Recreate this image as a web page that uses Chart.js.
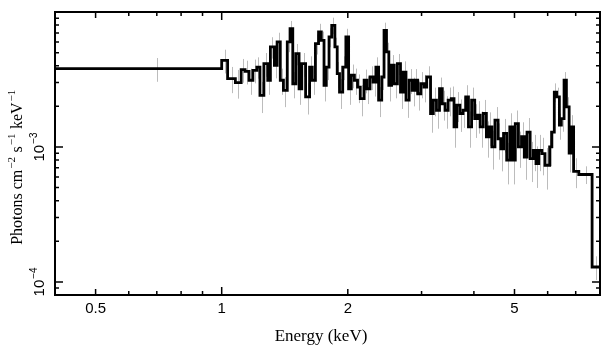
<!DOCTYPE html>
<html><head><meta charset="utf-8">
<script src="https://cdn.jsdelivr.net/npm/chart.js@4.4.1/dist/chart.umd.min.js"></script>
<style>html,body{margin:0;padding:0;background:#fff;overflow:hidden}#wrap{width:609px;height:357px}</style>
</head><body><div id="wrap"><canvas id="c" width="609" height="357"></canvas></div>
<script>
// Bin edges (keV), 120 edges -> 119 bins
const binEdges = [
 0.40,1.000,1.033,1.078,1.113,1.137,1.162,1.187,1.213,1.234,
 1.261,1.288,1.307,1.336,1.356,1.380,1.404,1.434,1.456,1.478,
 1.503,1.530,1.553,1.586,1.621,1.645,1.674,1.703,1.729,1.755,
 1.777,1.804,1.831,1.863,1.887,1.911,1.945,1.979,2.009,2.039,
 2.074,2.110,2.142,2.188,2.222,2.260,2.299,2.334,2.369,2.410,
 2.441,2.474,2.506,2.544,2.582,2.627,2.672,2.713,2.754,2.802,
 2.850,2.893,2.937,2.988,3.040,3.086,3.152,3.200,3.256,3.311,
 3.362,3.413,3.472,3.532,3.586,3.640,3.703,3.767,3.824,3.882,
 3.950,4.018,4.079,4.140,4.211,4.284,4.349,4.415,4.491,4.569,
 4.638,4.709,4.790,4.873,4.947,5.022,5.109,5.197,5.277,5.356,
 5.449,5.543,5.627,5.712,5.811,5.912,6.066,6.131,6.223,6.304,
 6.399,6.468,6.566,6.651,6.752,6.825,6.92,7.12,7.66,8.0
];
// Flux (photons cm^-2 s^-1 keV^-1) per bin
const flux = [
 3.80e-3,4.38e-3,3.21e-3,3.00e-3,3.74e-3,3.63e-3,3.12e-3,3.70e-3,3.91e-3,2.41e-3,
 4.14e-3,3.12e-3,5.51e-3,4.03e-3,6.00e-3,3.12e-3,2.63e-3,6.00e-3,7.53e-3,2.94e-3,
 4.91e-3,2.70e-3,4.14e-3,2.35e-3,3.91e-3,3.12e-3,5.83e-3,7.11e-3,6.17e-3,2.86e-3,
 3.91e-3,6.53e-3,7.96e-3,5.51e-3,3.49e-3,2.55e-3,3.91e-3,6.53e-3,2.70e-3,3.40e-3,
 3.12e-3,2.78e-3,2.28e-3,3.12e-3,2.70e-3,3.30e-3,3.03e-3,3.91e-3,2.22e-3,3.30e-3,
 7.31e-3,5.06e-3,2.86e-3,4.03e-3,2.94e-3,4.14e-3,2.55e-3,3.59e-3,2.22e-3,3.12e-3,
 2.63e-3,3.12e-3,2.48e-3,2.94e-3,2.78e-3,3.30e-3,1.77e-3,2.22e-3,1.87e-3,2.70e-3,
 2.09e-3,1.87e-3,2.22e-3,2.28e-3,1.41e-3,2.04e-3,1.77e-3,1.87e-3,2.35e-3,1.41e-3,
 2.22e-3,1.62e-3,1.72e-3,1.41e-3,1.77e-3,1.19e-3,1.41e-3,1.00e-3,1.58e-3,1.15e-3,
 0.97e-3,1.26e-3,0.80e-3,1.41e-3,0.80e-3,1.49e-3,1.00e-3,1.19e-3,0.84e-3,1.29e-3,
 0.82e-3,0.945e-3,0.753e-3,0.945e-3,0.893e-3,0.732e-3,1.00e-3,1.29e-3,2.55e-3,2.35e-3,
 1.45e-3,1.62e-3,3.12e-3,1.98e-3,0.90e-3,1.41e-3,0.66e-3,0.625e-3,0.129e-3
];
// Relative 1-sigma errors per bin
const fluxErr = [
 0.20,0.20,0.22,0.24,0.20,0.20,0.22,0.20,0.18,0.26,
 0.20,0.22,0.18,0.20,0.17,0.22,0.25,0.16,0.14,0.22,
 0.18,0.24,0.20,0.26,0.20,0.22,0.17,0.15,0.16,0.24,
 0.20,0.16,0.14,0.17,0.22,0.25,0.20,0.15,0.24,0.20,
 0.22,0.24,0.26,0.20,0.23,0.20,0.22,0.18,0.25,0.20,
 0.14,0.17,0.24,0.19,0.22,0.18,0.25,0.20,0.26,0.21,
 0.24,0.21,0.25,0.22,0.23,0.20,0.28,0.24,0.27,0.21,
 0.25,0.27,0.24,0.23,0.30,0.25,0.27,0.26,0.22,0.30,
 0.24,0.28,0.27,0.30,0.26,0.30,0.28,0.32,0.25,0.30,
 0.32,0.28,0.34,0.26,0.34,0.25,0.30,0.28,0.32,0.27,
 0.33,0.30,0.34,0.30,0.31,0.34,0.28,0.24,0.16,0.17,
 0.22,0.20,0.15,0.18,0.28,0.22,0.25,0.15,0.20
];
const xLabelTicks = [0.5, 1, 2, 5];
const xMinorTicks = [0.6, 0.7, 0.8, 0.9, 3, 4, 6, 7];
const yMajorTicks = [1e-4, 1e-3];
const yMinorTicks = [9e-5,2e-4,3e-4,4e-4,5e-4,6e-4,7e-4,8e-4,9e-4,2e-3,3e-3,4e-3,5e-3,6e-3,7e-3,8e-3,9e-3];
const yTickExp = ['\u22124', '\u22123'];
const xTitle = 'Energy (keV)';
const yTitleParts = [['Photons cm',0],['\u22122',1],[' s',0],['\u22121',1],[' keV',0],['\u22121',1]];

const stepPoints = binEdges.map((e, i) => ({x: e, y: flux[Math.min(i, flux.length - 1)]}));

const SANS = '"Liberation Sans", Arial, sans-serif';
const SERIF = '"Liberation Serif", "Times New Roman", serif';

const errorBars = {
  id: 'errorBars',
  beforeDatasetsDraw(chart) {
    const {ctx, scales: {x, y}, chartArea: a} = chart;
    ctx.save();
    ctx.beginPath(); ctx.rect(a.left, a.top, a.right - a.left, a.bottom - a.top); ctx.clip();
    ctx.strokeStyle = '#bcbcbc'; ctx.lineWidth = 1;
    for (let i = 0; i < flux.length; i++) {
      const xc = (binEdges[i] + binEdges[i + 1]) / 2;
      const px = Math.round(x.getPixelForValue(xc)) + 0.5;
      const v = flux[i], e = fluxErr[i] * v;
      ctx.beginPath();
      ctx.moveTo(px, y.getPixelForValue(v + e));
      ctx.lineTo(px, y.getPixelForValue(Math.max(v - e, 1e-6)));
      ctx.stroke();
    }
    ctx.restore();
  }
};

const frame = {
  id: 'frame',
  afterDraw(chart) {
    const {ctx, scales: {x, y}, chartArea: a} = chart;
    ctx.save();
    ctx.strokeStyle = '#000'; ctx.fillStyle = '#000';
    ctx.lineWidth = 2;
    ctx.strokeRect(a.left, a.top, a.right - a.left, a.bottom - a.top);
    ctx.lineWidth = 1.5;
    const xt = (v, len) => {
      const px = x.getPixelForValue(v);
      ctx.beginPath();
      ctx.moveTo(px, a.bottom); ctx.lineTo(px, a.bottom - len);
      ctx.moveTo(px, a.top); ctx.lineTo(px, a.top + len);
      ctx.stroke();
    };
    const yt = (v, len) => {
      const py = y.getPixelForValue(v);
      ctx.beginPath();
      ctx.moveTo(a.left, py); ctx.lineTo(a.left + len, py);
      ctx.moveTo(a.right, py); ctx.lineTo(a.right - len, py);
      ctx.stroke();
    };
    xMinorTicks.forEach(v => xt(v, 4));
    xLabelTicks.forEach(v => xt(v, v === 1 ? 8 : 6));
    yMinorTicks.forEach(v => yt(v, 4));
    yMajorTicks.forEach(v => yt(v, 8));

    // x tick labels
    ctx.font = '15px ' + SANS;
    ctx.textAlign = 'center'; ctx.textBaseline = 'alphabetic';
    xLabelTicks.forEach(v => ctx.fillText(String(v), x.getPixelForValue(v), 313));

    // y tick labels (rotated, 10 with superscript exponent)
    yMajorTicks.forEach((v, i) => {
      const py = y.getPixelForValue(v);
      ctx.save();
      ctx.translate(44, py); ctx.rotate(-Math.PI / 2);
      ctx.textAlign = 'left';
      ctx.font = '15px ' + SANS; const wb = ctx.measureText('10').width;
      ctx.font = '10px ' + SANS; const ws = ctx.measureText(yTickExp[i]).width;
      const s = -(wb + ws + 1) / 2;
      ctx.font = '15px ' + SANS; ctx.fillText('10', s, 0);
      ctx.font = '10px ' + SANS; ctx.fillText(yTickExp[i], s + wb + 1, -7);
      ctx.restore();
    });

    // x title
    ctx.font = '17px ' + SERIF; ctx.textAlign = 'center';
    ctx.fillText(xTitle, 321, 341);

    // y title
    ctx.save();
    ctx.translate(22, 167); ctx.rotate(-Math.PI / 2);
    ctx.textAlign = 'left';
    const fnt = p => (p[1] ? '11px ' : '16px ') + SERIF;
    let tot = 0;
    yTitleParts.forEach(p => { ctx.font = fnt(p); tot += ctx.measureText(p[0]).width + (p[1] ? 1.5 : 0); });
    let cx = -tot / 2;
    yTitleParts.forEach(p => {
      ctx.font = fnt(p);
      ctx.fillText(p[0], cx + (p[1] ? 1 : 0), p[1] ? -7 : 0);
      cx += ctx.measureText(p[0]).width + (p[1] ? 1.5 : 0);
    });
    ctx.restore();
    ctx.restore();
  }
};

new Chart(document.getElementById('c'), {
  type: 'line',
  data: {
    datasets: [{
      data: stepPoints,
      stepped: 'before',
      borderColor: '#000',
      borderWidth: 2.8,
      borderJoinStyle: 'miter',
      pointRadius: 0,
      fill: false,
      tension: 0
    }]
  },
  options: {
    responsive: false,
    animation: false,
    devicePixelRatio: 1,
    layout: {padding: {left: 55, right: 9, top: 12, bottom: 62}},
    plugins: {legend: {display: false}, tooltip: {enabled: false}},
    scales: {
      x: {type: 'logarithmic', min: 0.4, max: 8, display: false},
      y: {type: 'logarithmic', min: 8e-5, max: 1e-2, display: false}
    }
  },
  plugins: [errorBars, frame]
});
</script>
</body></html>
